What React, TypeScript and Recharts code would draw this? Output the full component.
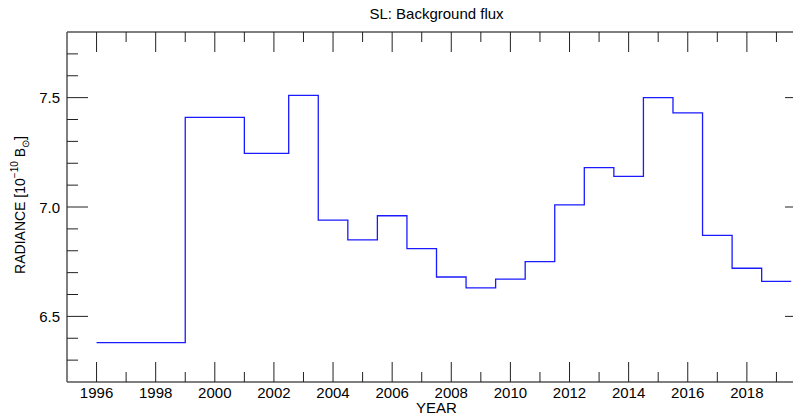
import React from 'react';
import { LineChart, Line, XAxis, YAxis } from 'recharts';

const binStarts = [1996, 1999, 2001, 2002.5, 2003.5, 2004.5, 2005.5, 2006.5, 2007.5, 2008.5, 2009.5, 2010.5, 2011.5, 2012.5, 2013.5, 2014.5, 2015.5, 2016.5, 2017.5, 2018.5];
const lastBinEnd = 2019.5;
const radiance = [6.38, 7.41, 7.245, 7.51, 6.94, 6.85, 6.96, 6.81, 6.68, 6.63, 6.67, 6.75, 7.01, 7.18, 7.14, 7.5, 7.43, 6.87, 6.72, 6.66];

const xTicks = [1996, 1997, 1998, 1999, 2000, 2001, 2002, 2003, 2004, 2005, 2006, 2007, 2008, 2009, 2010, 2011, 2012, 2013, 2014, 2015, 2016, 2017, 2018, 2019];
const xLabeled = [1996, 1998, 2000, 2002, 2004, 2006, 2008, 2010, 2012, 2014, 2016, 2018];
const yTicks = [6.3, 6.4, 6.5, 6.6, 6.7, 6.8, 6.9, 7.0, 7.1, 7.2, 7.3, 7.4, 7.5, 7.6, 7.7];
const yLabeled = [6.5, 7.0, 7.5];

const data = [
  ...binStarts.map((x, i) => ({ x, v: radiance[i] })),
  { x: lastBinEnd, v: radiance[radiance.length - 1] },
];

const FONT = '"Liberation Sans", Arial, Helvetica, sans-serif';
const AXIS = '#555';
const TICK = '#222';

const isMajorX = (v: number) => xLabeled.includes(v);
const isMajorY = (v: number) => yLabeled.some((m) => Math.abs(m - v) < 1e-6);

const BottomTick = (props: any) => {
  const { x, y, payload } = props;
  const major = isMajorX(payload.value);
  return (
    <g>
      <line x1={x} y1={y} x2={x} y2={y - (major ? 20 : 10)} stroke={TICK} strokeWidth={1} />
      {major && (
        <text x={x} y={y + 16} textAnchor="middle" fontSize={15} fontFamily={FONT} fill="#000">
          {payload.value}
        </text>
      )}
    </g>
  );
};

const TopTick = (props: any) => {
  const { x, y, payload } = props;
  const major = isMajorX(payload.value);
  return <line x1={x} y1={y} x2={x} y2={y + (major ? 20 : 10)} stroke={TICK} strokeWidth={1} />;
};

const LeftTick = (props: any) => {
  const { x, y, payload } = props;
  const major = isMajorY(payload.value);
  return (
    <g>
      <line x1={x} y1={y} x2={x + (major ? 21 : 11)} y2={y} stroke={TICK} strokeWidth={1} />
      {major && (
        <text x={x - 7} y={y + 5.5} textAnchor="end" fontSize={15} fontFamily={FONT} fill="#000">
          {payload.value.toFixed(1)}
        </text>
      )}
    </g>
  );
};

const RightTick = (props: any) => {
  const { x, y, payload } = props;
  const major = isMajorY(payload.value);
  return <line x1={x} y1={y} x2={x - (major ? 21 : 11)} y2={y} stroke={TICK} strokeWidth={1} />;
};

const TitleLabel = (props: any) => {
  const vb = props.viewBox || {};
  return (
    <text x={vb.x + vb.width / 2} y={11} textAnchor="middle" fontSize={15} fontFamily={FONT} fill="#000">
      SL: Background flux
    </text>
  );
};

const YearLabel = (props: any) => {
  const vb = props.viewBox || {};
  return (
    <text x={vb.x + vb.width / 2} y={405} textAnchor="middle" fontSize={15} fontFamily={FONT} fill="#000">
      YEAR
    </text>
  );
};

const RadianceLabel = (props: any) => {
  const vb = props.viewBox || {};
  const cx = 17;
  const cy = vb.y + vb.height / 2 - 2;
  return (
    <text
      x={cx}
      y={cy}
      transform={`rotate(-90, ${cx}, ${cy})`}
      textAnchor="middle"
      fontSize={14}
      fontFamily={FONT}
      fill="#000"
    >
      RADIANCE [10
      <tspan dy={-7} fontSize={10}>{'\u221210'}</tspan>
      <tspan dy={7}>{' B'}</tspan>
      <tspan dy={4} fontSize={10}>{'\u2299'}</tspan>
      <tspan dy={-4}>]</tspan>
    </text>
  );
};

export default function App() {
  return (
    <div style={{ width: 793, height: 408, overflow: 'hidden', position: 'relative' }}>
      <LineChart width={805} height={408} data={data} margin={{ top: 0, right: 0, bottom: 0, left: 0 }}>
        <XAxis
          xAxisId="bottom"
          dataKey="x"
          type="number"
          domain={[1995, 2020]}
          allowDataOverflow
          ticks={xTicks}
          interval={0}
          height={34}
          orientation="bottom"
          axisLine={{ stroke: AXIS, strokeWidth: 1.5 }}
          tickLine={false}
          tickSize={0}
          tickMargin={0}
          tick={<BottomTick />}
          label={<YearLabel />}
        />
        <XAxis
          xAxisId="top"
          dataKey="x"
          type="number"
          domain={[1995, 2020]}
          allowDataOverflow
          ticks={xTicks}
          interval={0}
          height={24}
          orientation="top"
          axisLine={{ stroke: AXIS, strokeWidth: 1.5 }}
          tickLine={false}
          tickSize={0}
          tickMargin={0}
          tick={<TopTick />}
          label={<TitleLabel />}
        />
        <YAxis
          yAxisId="left"
          type="number"
          domain={[6.2, 7.8]}
          allowDataOverflow
          ticks={yTicks}
          interval={0}
          width={59}
          orientation="left"
          axisLine={{ stroke: AXIS, strokeWidth: 1.5 }}
          tickLine={false}
          tickSize={0}
          tickMargin={0}
          tick={<LeftTick />}
          label={<RadianceLabel />}
        />
        <YAxis
          yAxisId="right"
          type="number"
          domain={[6.2, 7.8]}
          allowDataOverflow
          ticks={yTicks}
          interval={0}
          width={7}
          orientation="right"
          axisLine={{ stroke: AXIS, strokeWidth: 1.5 }}
          tickLine={false}
          tickSize={0}
          tickMargin={0}
          tick={<RightTick />}
        />
        <Line
          xAxisId="bottom"
          yAxisId="left"
          type="stepAfter"
          dataKey="v"
          stroke="#1a1aff"
          strokeWidth={1.3}
          dot={false}
          activeDot={false}
          isAnimationActive={false}
        />
      </LineChart>
    </div>
  );
}
